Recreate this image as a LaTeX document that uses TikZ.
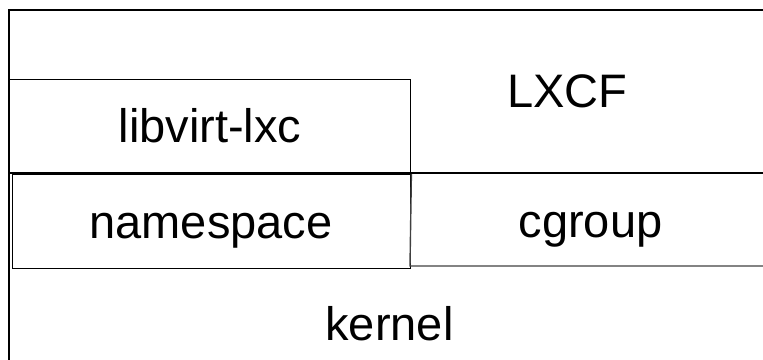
\documentclass[tikz,border=0pt]{standalone}
\usepackage{fontspec}
\setmainfont{Liberation Sans}
\begin{document}
\begin{tikzpicture}[x=1pt,y=-1pt,
  lbl/.style={anchor=base,inner sep=0pt,font=\fontsize{47}{56}\selectfont},
  box/.style={draw,line width=1.4pt},
  frame/.style={line width=2pt}]
\useasboundingbox (0,0) rectangle (763,359);
% outer LXCF / kernel frame (open to the right and bottom)
\coordinate (otr) at (765,10);
\coordinate (otl) at (9,10);
\coordinate (obl) at (9,361);
\draw[frame] (otr) -- (otl) -- (obl);
% libvirt-lxc box
\node[box,minimum width=401pt,minimum height=93pt,anchor=north west,inner sep=0pt] (libvirt) at (9,79) {};
% thick separating line
\coordinate (ml) at (9,173);
\coordinate (mr) at (765,173);
\draw[line width=2.6pt] (ml) -- (mr);
% namespace box
\node[box,minimum width=398pt,minimum height=94pt,anchor=north west,inner sep=0pt] (ns) at (12,174) {};
% cgroup region
\coordinate (cgbr) at (765,266);
\coordinate (cgbl) at (410,266);
\draw[line width=1.4pt,draw=black!75] (ns.north east) -- (cgbl) -- (cgbr);
% labels
\node[lbl] (tlib) at (210,142) {libvirt-lxc};
\node[lbl] (tlxcf) at (567.5,107) {LXCF};
\node[lbl] (tns) at (211,238) {namespace};
\node[lbl] (tcg) at (590.5,237) {cgroup};
\node[lbl] (tker) at (389.5,340) {kernel};
\end{tikzpicture}
\end{document}
